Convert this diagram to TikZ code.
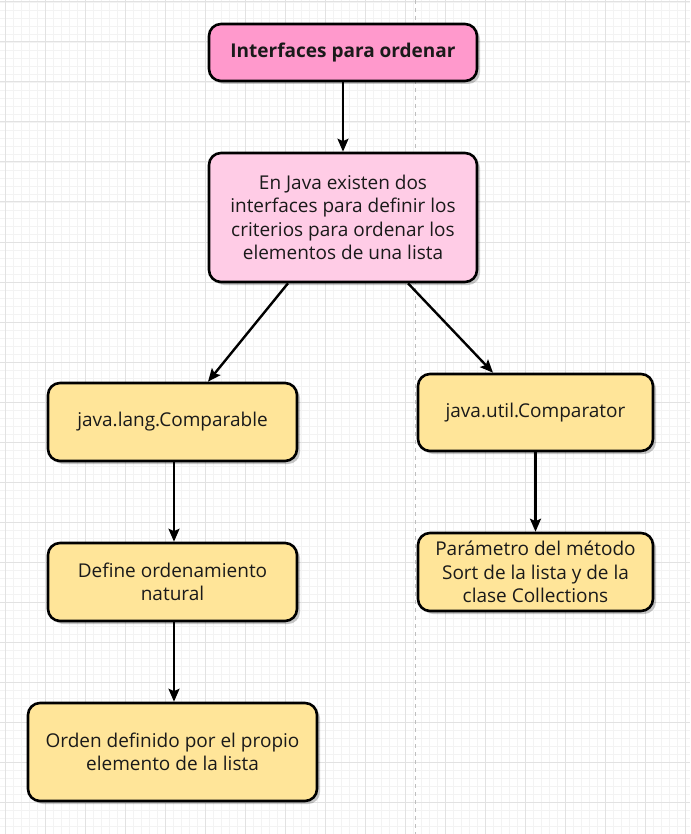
\documentclass[tikz,border=0pt]{standalone}
\usepackage{fontspec}
\setmainfont{Open Sans}
\usetikzlibrary{arrows.meta,shadows,calc}
\definecolor{gridminor}{HTML}{F3F3F3}
\definecolor{gridmajor}{HTML}{E2E2E2}
\definecolor{pinkA}{HTML}{FF99CC}
\definecolor{pinkB}{HTML}{FFCCE6}
\definecolor{yellowA}{HTML}{FFE599}
\definecolor{txt}{HTML}{1A1A1A}
\tikzset{
  box/.style={draw=black, line width=2.6pt, rounded corners=12pt, align=center,
    text=txt, font=\fontsize{19pt}{23.3pt}\selectfont,
    drop shadow={shadow xshift=3pt, shadow yshift=-3pt, fill=black, opacity=0.22}},
  pinkbox/.style={box, fill=pinkA},
  lightpinkbox/.style={box, fill=pinkB},
  yellowbox/.style={box, fill=yellowA},
  conn/.style={line width=2.4pt, -{Stealth[length=13pt,width=11pt,inset=2.5pt]}}
}
\begin{document}
\begin{tikzpicture}[x=1pt,y=-1pt]
\useasboundingbox (0,0) rectangle (690,834);
\fill[white] (0,0) rectangle (690,834);
% grid
\foreach \x in {-3,5,...,690} \draw[gridminor, line width=0.8pt] (\x,0) -- (\x,834);
\foreach \y in {2,10,...,834} \draw[gridminor, line width=0.8pt] (0,\y) -- (690,\y);
\foreach \x in {5,45,...,690} \draw[gridmajor, line width=1pt] (\x,0) -- (\x,834);
\foreach \y in {2,42,...,834} \draw[gridmajor, line width=1pt] (0,\y) -- (690,\y);
\draw[black!25, line width=0.8pt, dash pattern=on 4pt off 4pt] (415,0) -- (415,834);
% nodes
\node[pinkbox, minimum width=268pt, minimum height=57pt, font=\bfseries\fontsize{19pt}{23.3pt}\selectfont] (b1) at (343,52.5) {Interfaces para ordenar};
\node[lightpinkbox, minimum width=268pt, minimum height=129pt] (b2) at (343,217.5) {En Java existen dos\\interfaces para definir los\\criterios para ordenar los\\elementos de una lista};
\node[yellowbox, minimum width=249pt, minimum height=78pt] (b3) at (172.5,422) {java.lang.Comparable};
\node[yellowbox, minimum width=235pt, minimum height=77pt] (b4) at (535.5,412.5) {java.util.Comparator};
\node[yellowbox, minimum width=249pt, minimum height=78pt] (b5) at (172.5,582) {Define ordenamiento\\natural};
\node[yellowbox, minimum width=235pt, minimum height=78pt, inner sep=2pt] (b6) at (535.5,572) {Parámetro del método\\Sort de la lista y de la\\clase Collections};
\node[yellowbox, minimum width=289pt, minimum height=98pt] (b7) at (172.5,752) {Orden definido por el propio\\elemento de la lista};
% connectors
\draw[conn] (b1.south) -- (b2.north);
\draw[conn] ($(b2.south)+(-55,0)$) -- ($(b3.north)+(35.5,0)$);
\draw[conn] ($(b2.south)+(65,0)$) -- ($(b4.north)+(-42.5,0)$);
\draw[conn] ($(b3.south)+(1.5,0)$) -- ($(b5.north)+(1.5,0)$);
\draw[conn] (b4.south) -- (b6.north);
\draw[conn] ($(b5.south)+(1.5,0)$) -- ($(b7.north)+(1.5,0)$);
\end{tikzpicture}
\end{document}
